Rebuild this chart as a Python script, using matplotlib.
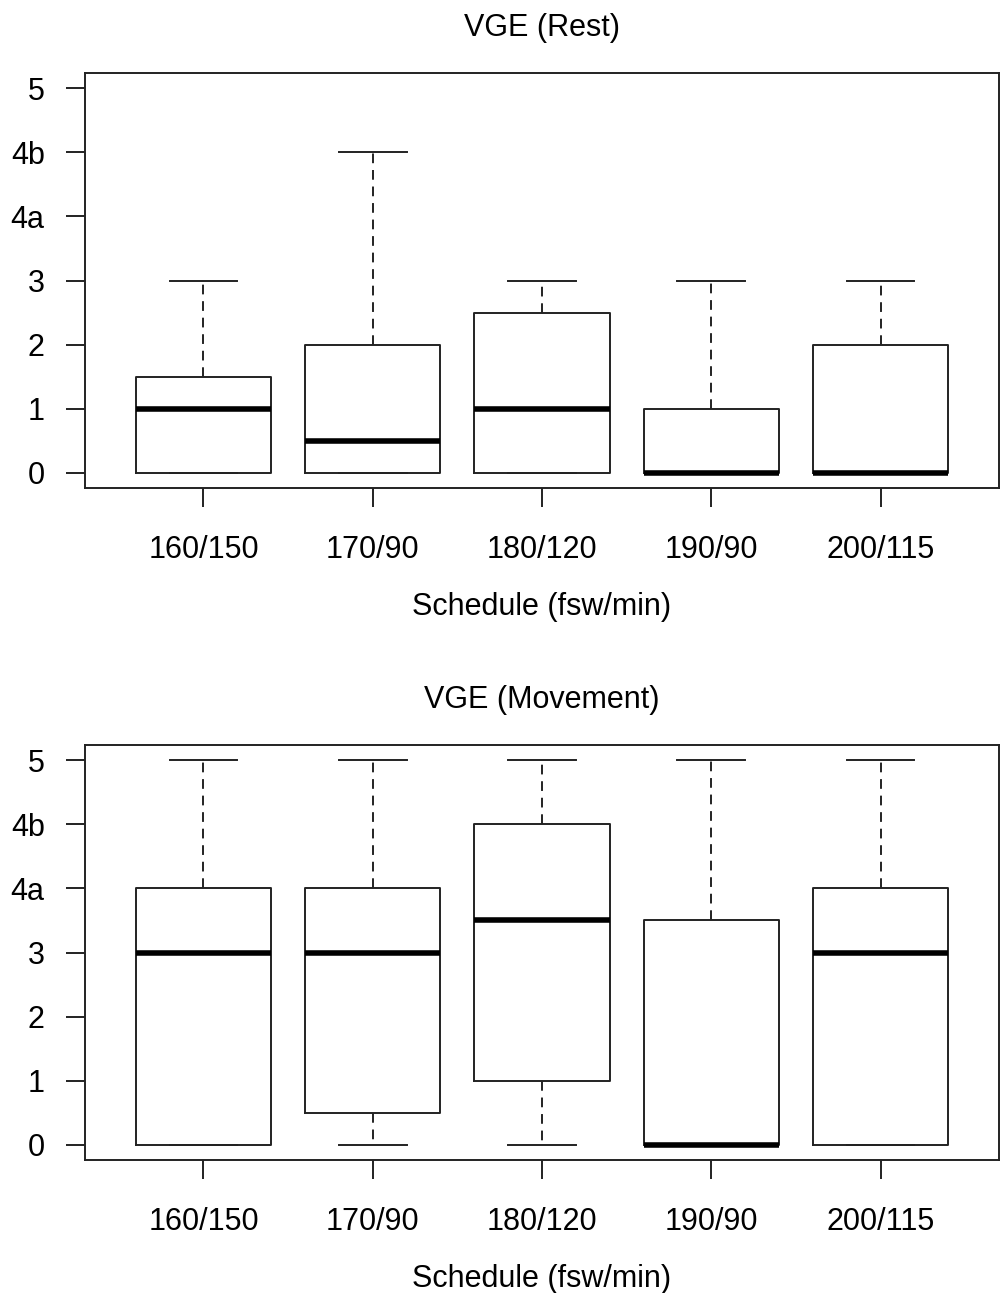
import matplotlib
matplotlib.use("Agg")
import matplotlib.pyplot as plt

plt.rcParams['font.family'] = ['Liberation Sans', 'DejaVu Sans']

schedules = ["160/150", "170/90", "180/120", "190/90", "200/115"]
ytick_labels = ["0", "1", "2", "3", "4a", "4b", "5"]

# five-number summaries (on the 0..6 grade index scale)
rest_min = [0, 0, 0, 0, 0]
rest_q1 = [0, 0, 0, 0, 0]
rest_med = [1, 0.5, 1, 0, 0]
rest_q3 = [1.5, 2, 2.5, 1, 2]
rest_max = [3, 5, 3, 3, 3]

move_min = [0, 0, 0, 0, 0]
move_q1 = [0, 0.5, 1, 0, 0]
move_med = [3, 3, 3.5, 0, 3]
move_q3 = [4, 4, 5, 3.5, 4]
move_max = [6, 6, 6, 6, 6]

W, H = 1001, 1293
fig = plt.figure(figsize=(W / 100, H / 100), dpi=100)
FS = 22
LW = 1.4


def panel(rect, title, mins, q1s, meds, q3s, maxs):
    ax = fig.add_axes(rect)
    stats = []
    for lab, a, b, c, d, e in zip(schedules, mins, q1s, meds, q3s, maxs):
        stats.append(dict(label=lab, whislo=a, q1=b, med=c, q3=d, whishi=e, fliers=[]))
    ax.bxp(stats, positions=range(1, 6), widths=0.8, showfliers=False,
           boxprops=dict(color='#222222', linewidth=LW),
           medianprops=dict(color='black', linewidth=4.0, solid_capstyle='butt'),
           whiskerprops=dict(color='#222222', linewidth=LW, linestyle=(0, (5, 3.5))),
           capprops=dict(color='#222222', linewidth=LW),
           capwidths=0.4)
    ax.set_xlim(0.3, 5.7)
    ax.set_ylim(-0.24, 6.24)
    ax.set_yticks(range(7))
    ax.set_yticklabels(ytick_labels)
    ax.set_xticks(range(1, 6))
    ax.set_xticklabels(schedules)
    ax.tick_params(axis='both', length=14, width=LW, labelsize=FS, direction='out',
                   color='#222222')
    ax.tick_params(axis='x', pad=19.5)
    ax.tick_params(axis='y', pad=15)
    for s in ax.spines.values():
        s.set_linewidth(LW)
        s.set_color('#222222')
    ax.set_title(title, fontsize=FS, pad=26.5)
    ax.set_xlabel("Schedule (fsw/min)", fontsize=FS, labelpad=20)
    return ax


left = 85 / W
width = (999 - 85) / W
h = 415 / H
panel([left, 1 - 488 / H, width, h], "VGE (Rest)", rest_min, rest_q1, rest_med, rest_q3, rest_max)
panel([left, 1 - 1160 / H, width, h], "VGE (Movement)", move_min, move_q1, move_med, move_q3, move_max)

fig.savefig("out.png", dpi=100)
